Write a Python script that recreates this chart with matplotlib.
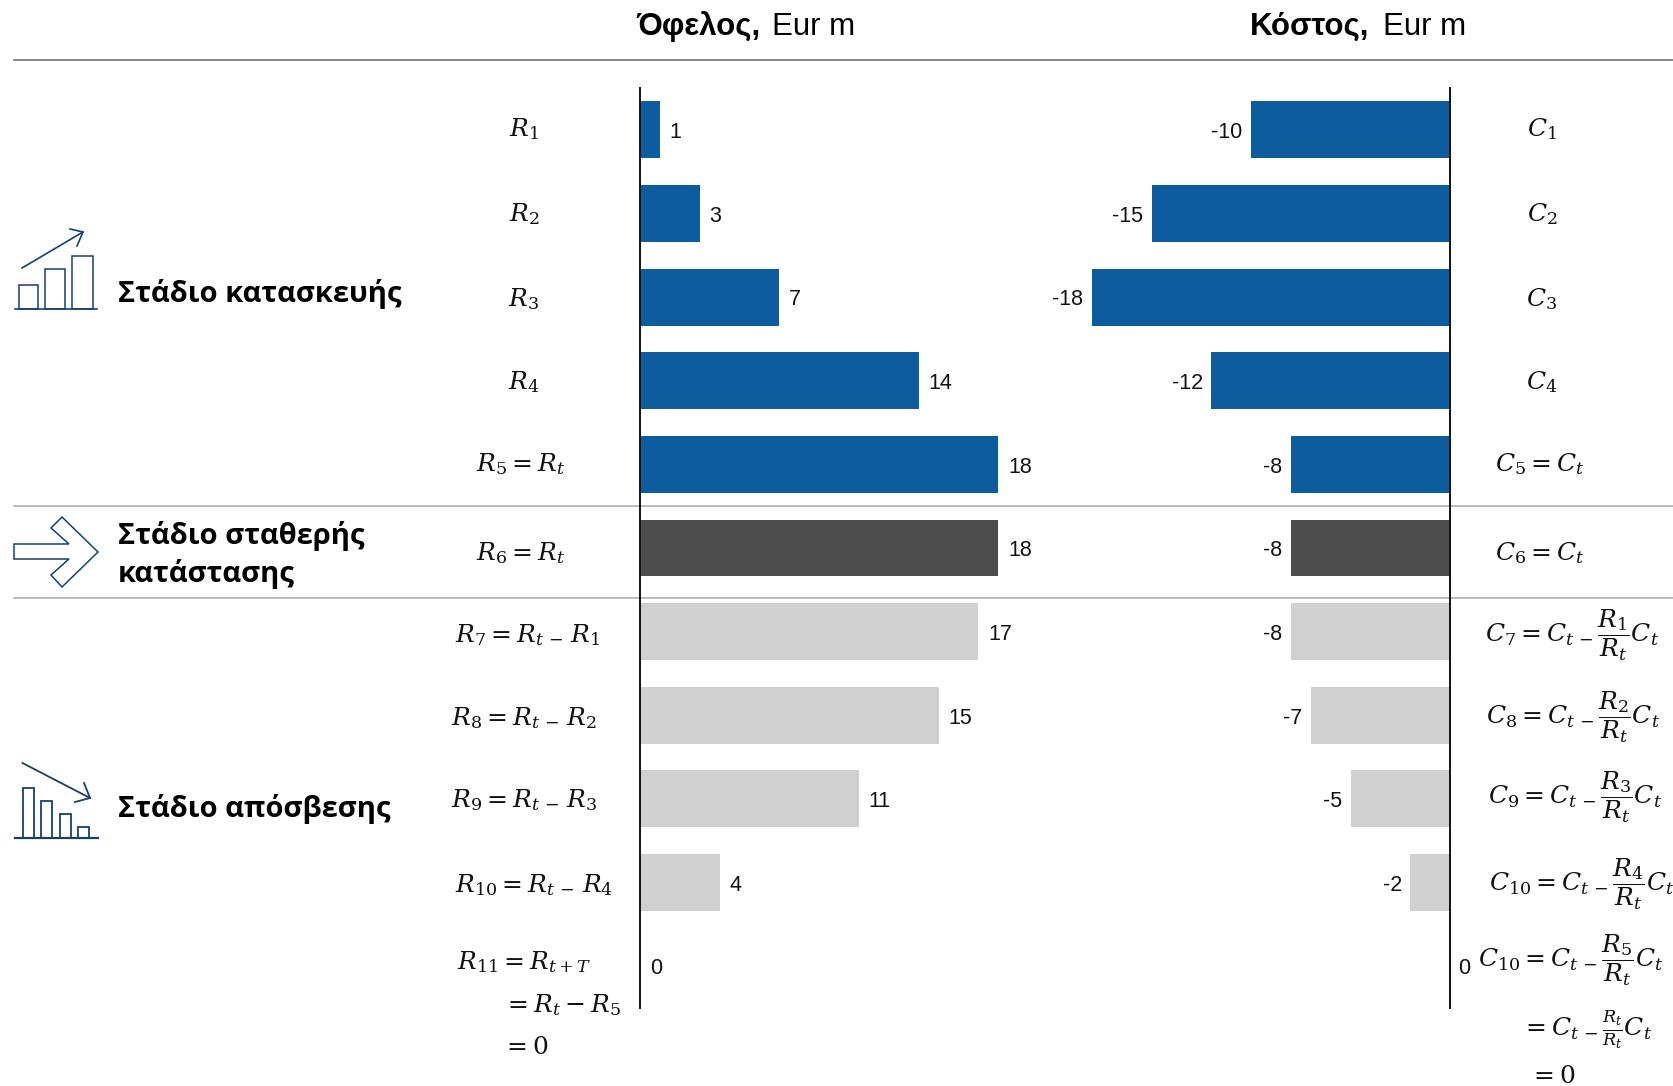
"""Cost and benefit by project stage, drawn as two mirrored bar panels."""
import matplotlib
matplotlib.use("Agg")
import matplotlib.pyplot as plt
from matplotlib.patches import Polygon, Rectangle

W, H = 1673, 1086

plt.rcParams["font.family"] = ["Liberation Sans", "DejaVu Sans"]
plt.rcParams["mathtext.fontset"] = "dejavuserif"

benefit = [1, 3, 7, 14, 18, 18, 17, 15, 11, 4, 0]
cost = [-10, -15, -18, -12, -8, -8, -8, -7, -5, -2, 0]
stage = ["build"] * 5 + ["steady"] + ["decline"] * 5
stage_colors = {"build": "#0d5c9e", "steady": "#4d4d4d", "decline": "#d0d0d0"}

# label text, centre x, centre y (pixels)
benefit_labels = [
    (r"$R_{1}$", 524, 129),
    (r"$R_{2}$", 524, 214),
    (r"$R_{3}$", 524, 299),
    (r"$R_{4}$", 524, 382),
    (r"$R_{5}=R_{t}$", 521, 464),
    (r"$R_{6}=R_{t}$", 521, 553),
    (r"$R_{7}=R_{t\,-}\,R_{1}$", 528, 635),
    (r"$R_{8}=R_{t\,-}\,R_{2}$", 524, 718),
    (r"$R_{9}=R_{t\,-}\,R_{3}$", 524, 800),
    (r"$R_{10}=R_{t\,-}\,R_{4}$", 534, 885),
    (r"$R_{11}=R_{t+T}$", 524, 962),
    (r"$=R_{t}-R_{5}$", 562, 1005),
    (r"$=0$", 525, 1047),
]
cost_labels = [
    (r"$C_{1}$", 1542, 129),
    (r"$C_{2}$", 1542, 214),
    (r"$C_{3}$", 1542, 299),
    (r"$C_{4}$", 1542, 382),
    (r"$C_{5}=C_{t}$", 1540, 464),
    (r"$C_{6}=C_{t}$", 1540, 553),
    (r"$C_{7}=C_{t\,-}\dfrac{R_{1}}{R_{t}}C_{t}$", 1572, 635),
    (r"$C_{8}=C_{t\,-}\dfrac{R_{2}}{R_{t}}C_{t}$", 1573, 717),
    (r"$C_{9}=C_{t\,-}\dfrac{R_{3}}{R_{t}}C_{t}$", 1575, 797),
    (r"$C_{10}=C_{t\,-}\dfrac{R_{4}}{R_{t}}C_{t}$", 1582, 884),
    (r"$C_{10}=C_{t\,-}\dfrac{R_{5}}{R_{t}}C_{t}$", 1571, 960),
    (r"$=C_{t\,-}\frac{R_{t}}{R_{t}}C_{t}$", 1587, 1030),
    (r"$=0$", 1552, 1076),
]
stage_titles = [
    ("Στάδιο κατασκευής", 294),
    ("Στάδιο σταθερής\nκατάστασης", 555),
    ("Στάδιο απόσβεσης", 809),
]
ICON = "#17406d"


def px_axes(fig, x0, y0, x1, y1):
    return fig.add_axes([x0 / W, 1 - y1 / H, (x1 - x0) / W, (y1 - y0) / H])


def draw_icons(bg):
    # rising chart
    bg.plot([15, 97], [309, 309], color=ICON, lw=1.2)
    for x0, x1, top in [(19, 38.5, 285), (45.5, 65, 269), (72, 93, 256)]:
        bg.add_patch(Rectangle((x0, top), x1 - x0, 309 - top, fill=False, ec=ICON, lw=1.1))
    bg.plot([22, 83], [268, 232], color=ICON, lw=1.2)
    bg.plot([70, 83, 77], [229, 232, 246], color=ICON, lw=1.2)
    # block arrow
    arrow = [(14, 544), (69, 544), (51, 528), (62, 517), (98, 552), (62, 587),
             (51, 575), (69, 559), (14, 559)]
    bg.add_patch(Polygon(arrow, closed=True, fill=False, ec=ICON, lw=1.1))
    # falling chart
    bg.plot([15, 98], [838, 838], color=ICON, lw=1.6)
    for x0, x1, top in [(23, 34, 788), (41, 52, 801), (60, 71, 814), (78, 89, 827)]:
        bg.add_patch(Rectangle((x0, top), x1 - x0, 838 - top, fill=False, ec=ICON, lw=1.3))
    bg.plot([22.5, 90], [763, 798], color=ICON, lw=1.3)
    bg.plot([75, 90, 84], [802, 798, 783], color=ICON, lw=1.3)


def bar_panel(ax, values, xlim, spine, pad):
    colors = [stage_colors[s] for s in stage]
    bars = ax.barh(range(len(values)), values, height=0.68, color=colors)
    labels = ax.bar_label(bars, fmt="%g", padding=pad, fontsize=15.5, color="#111111")
    for t in labels:
        t.xyann = (t.xyann[0], -2)  # text box includes descent, nudge digits onto the bar centre
    ax.set_xlim(*xlim)
    ax.set_ylim(len(values) - 0.5, -0.5)
    ax.set_xticks([])
    ax.set_yticks([])
    ax.patch.set_alpha(0)
    for name, s in ax.spines.items():
        s.set_visible(name == spine)
    ax.spines[spine].set_linewidth(1.4)
    ax.spines[spine].set_color("#111111")


def main():
    fig = plt.figure(figsize=(W / 100, H / 100), dpi=100)

    bg = fig.add_axes([0, 0, 1, 1])
    bg.set_xlim(0, W)
    bg.set_ylim(H, 0)
    bg.axis("off")

    bg.plot([14, W], [60, 60], color="#808080", lw=1.3)
    bg.plot([14, W], [505.5, 505.5], color="#b5b5b5", lw=1.3)
    bg.plot([14, W], [597.5, 597.5], color="#b5b5b5", lw=1.3)

    bg.text(636, 27, "Όφελος,", fontsize=22.5, fontweight="bold", va="center")
    bg.text(772, 27, "Eur m", fontsize=22.5, va="center")
    bg.text(1250, 27, "Κόστος,", fontsize=22.5, fontweight="bold", va="center")
    bg.text(1383, 27, "Eur m", fontsize=22.5, va="center")

    for title, y in stage_titles:
        bg.text(118, y, title, fontsize=21, fontweight="bold", va="center",
                family="Open Sans", linespacing=1.35)

    for text, x, y in benefit_labels + cost_labels:
        bg.text(x, y, text, fontsize=18, ha="center", va="center", color="#111111")

    draw_icons(bg)

    bar_panel(px_axes(fig, 640, 88, 1038, 1008), benefit, (0, 20), "left", 7)
    bar_panel(px_axes(fig, 1052, 88, 1450, 1008), cost, (-20, 0), "right", 6)

    fig.savefig("out.png", dpi=100)


if __name__ == "__main__":
    main()
